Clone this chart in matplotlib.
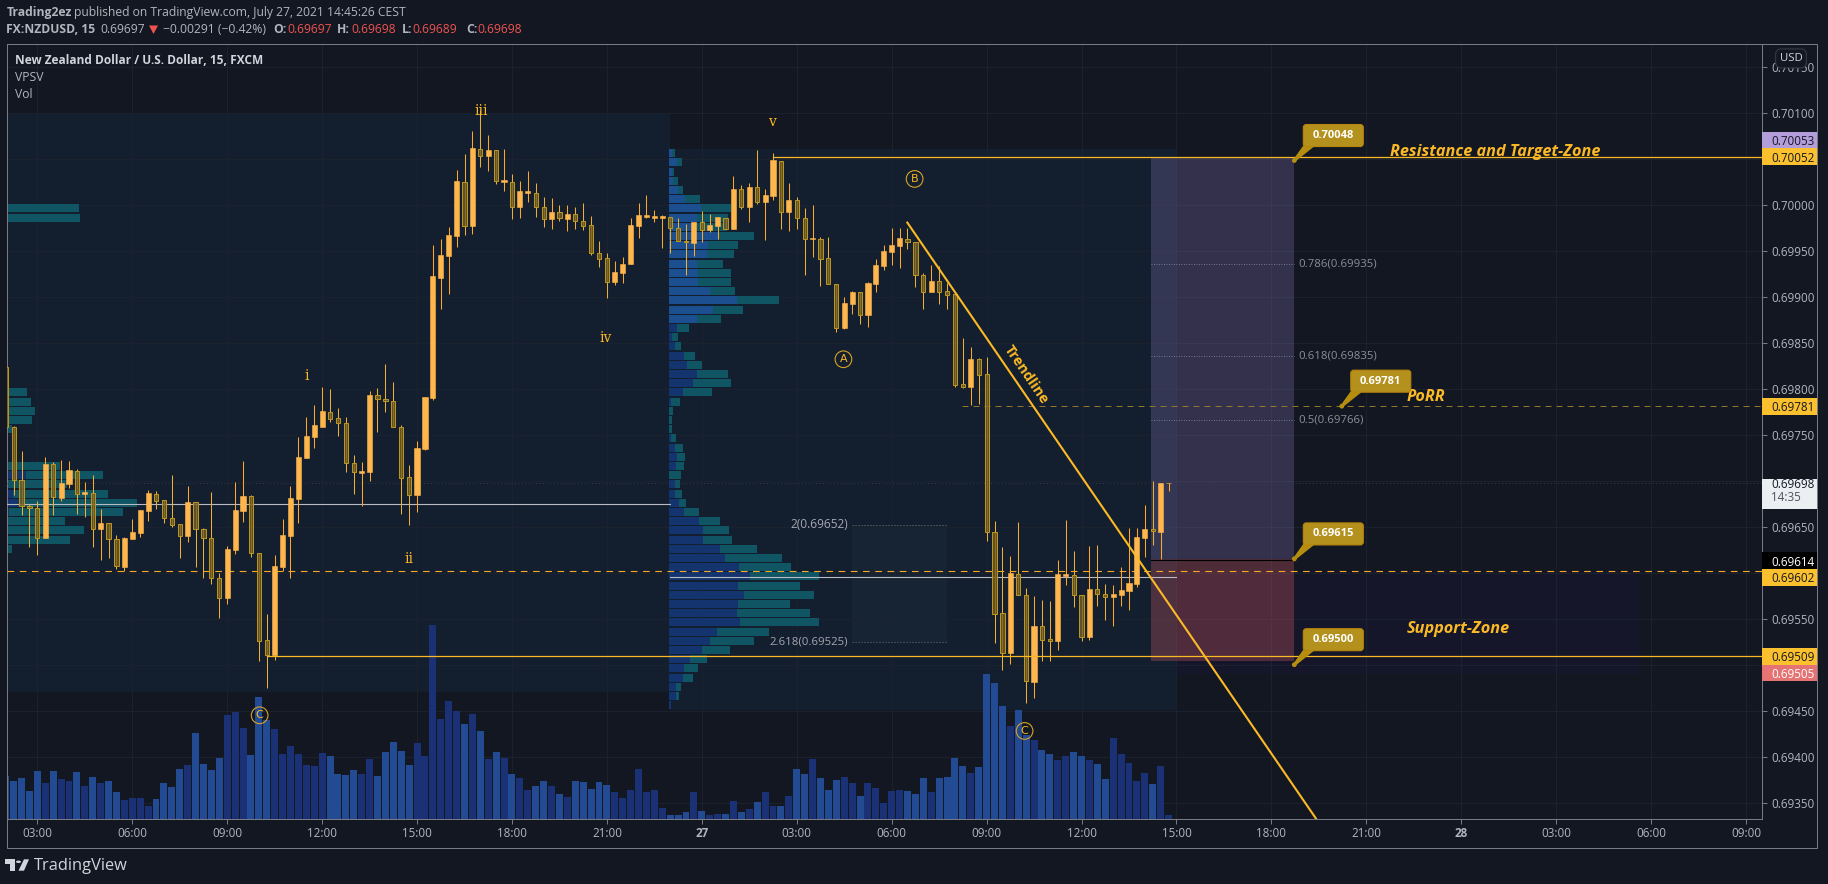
import numpy as np
import matplotlib
matplotlib.use("Agg")
import matplotlib.pyplot as plt
from matplotlib.patches import Rectangle, Polygon, FancyBboxPatch, Circle
from matplotlib.transforms import IdentityTransform, ScaledTranslation

# --- Candles, 15 min, prices in pipettes (1e-5), first bar = 02:00 Jul 26 ---
opens = [69824,69758,69701,69673,69670,69638,69718,69681,69696,69711,
         69686,69687,69647,69654,69637,69606,69637,69643,69667,69686,
         69679,69659,69653,69640,69677,69647,69638,69594,69573,69625,
         69667,69683,69621,69527,69511,69606,69640,69680,69725,69748,
         69758,69775,69768,69763,69719,69708,69710,69793,69789,69787,
         69758,69704,69685,69735,69790,69920,69944,69966,70025,69977,
         70061,70053,70059,70025,70025,69998,70013,70013,69997,69984,
         69992,69984,69990,69982,69978,69947,69942,69916,69926,69935,
         69977,69987,69986,69986,69987,69975,69961,69958,69981,69972,
         69977,69986,69974,70017,69998,70019,70003,70009,70048,69992,
         70005,69986,69963,69963,69942,69914,69866,69892,69905,69880,
         69914,69933,69949,69955,69963,69959,69924,69905,69917,69906,
         69903,69805,69802,69832,69816,69644,69556,69513,69599,69576,
         69481,69542,69528,69526,69596,69597,69576,69530,69582,69577,
         69574,69576,69580,69588,69638,69647,69644,69697]
highs = [69824,69759,69732,69675,69678,69726,69720,69723,69721,69713,
         69699,69706,69669,69654,69641,69639,69658,69668,69690,69689,
         69679,69706,69653,69694,69677,69649,69688,69600,69629,69699,
         69721,69684,69621,69555,69619,69658,69694,69748,69769,69782,
         69802,69800,69779,69769,69728,69720,69797,69801,69827,69807,
         69761,69717,69743,69791,69956,69963,69976,70038,70055,70080,
         70103,70076,70059,70061,70033,70026,70037,70024,70008,70007,
         70000,70000,69998,70002,69988,69960,69947,69939,69943,69986,
         70002,70011,69994,69989,69987,69986,69979,69981,69993,69990,
         69987,69986,70031,70021,70024,70059,70017,70056,70048,70024,
         70008,69996,70000,69965,69965,69914,69900,69906,69905,69916,
         69941,69956,69975,69975,69975,69959,69926,69934,69933,69915,
         69903,69855,69845,69833,69834,69656,69628,69618,69655,69583,
         69575,69570,69569,69614,69657,69624,69576,69629,69630,69588,
         69587,69606,69649,69649,69674,69700,69698,69698]
lows = [69758,69684,69663,69628,69619,69638,69663,69678,69692,69664,
        69661,69628,69614,69616,69604,69602,69637,69639,69656,69669,
        69654,69650,69616,69633,69606,69594,69588,69551,69566,69620,
        69655,69617,69504,69475,69505,69602,69594,69654,69725,69736,
        69758,69764,69749,69709,69686,69673,69700,69753,69775,69758,
        69664,69652,69666,69733,69788,69887,69903,69954,69967,69968,
        70041,70037,70022,70015,69984,69986,70003,69987,69976,69974,
        69982,69971,69974,69973,69945,69932,69899,69913,69915,69935,
        69964,69986,69981,69953,69947,69961,69924,69944,69959,69970,
        69963,69974,69974,69995,69981,70001,69962,70005,69974,69971,
        69974,69924,69943,69912,69914,69862,69865,69881,69870,69867,
        69905,69929,69934,69931,69952,69911,69887,69905,69892,69887,
        69802,69801,69782,69783,69634,69524,69494,69501,69576,69458,
        69464,69504,69504,69516,69587,69563,69526,69527,69564,69549,
        69542,69564,69559,69584,69617,69630,69615,69689]
closes = [69758,69701,69673,69670,69638,69718,69682,69698,69712,69686,
          69688,69647,69654,69637,69607,69638,69644,69668,69687,69678,
          69659,69652,69640,69677,69647,69638,69594,69573,69626,69668,
          69683,69621,69526,69511,69607,69641,69681,69726,69749,69760,
          69776,69767,69763,69719,69709,69711,69793,69789,69787,69758,
          69703,69685,69736,69791,69922,69945,69967,70026,69977,70062,
          70053,70059,70026,70027,69998,70015,70015,69997,69984,69992,
          69985,69990,69982,69977,69947,69941,69916,69927,69936,69978,
          69989,69989,69988,69988,69975,69961,69959,69981,69973,69978,
          69987,69974,70017,69998,70019,70003,70011,70049,69992,70005,
          69986,69963,69964,69941,69914,69866,69893,69905,69880,69915,
          69934,69950,69956,69964,69959,69924,69905,69917,69905,69902,
          69804,69802,69832,69815,69644,69555,69513,69600,69576,69482,
          69542,69527,69526,69599,69599,69576,69530,69582,69577,69574,
          69577,69581,69589,69639,69647,69645,69698,69698]
volumes = [129,114,123,84,144,108,144,120,114,141,
           99,126,108,114,81,57,63,63,39,60,
           108,96,150,162,258,165,147,183,312,321,
           273,192,366,297,270,195,219,195,162,159,
           198,189,135,132,147,135,180,129,201,231,
           204,162,228,189,582,300,354,324,285,315,
           264,180,201,183,135,123,87,99,114,99,
           75,66,114,111,90,111,102,81,63,87,
           150,81,87,33,12,12,21,81,24,12,
           15,15,54,21,30,51,81,39,39,69,
           150,135,180,123,87,117,126,108,69,108,
           93,48,84,87,84,75,123,81,123,126,
           183,159,138,156,435,408,339,279,327,252,
           237,207,195,177,189,201,189,177,165,120,
           243,195,168,114,138,105,159,12]

# --- Volume profiles (session 2 rows run from 70056 down by 10 pipettes) ---
vp_up = [9,24,9,12,27,48,96,84,73,148,117,114,84,87,87,123,204,132,84,24,
         9,18,45,54,84,72,42,6,0,0,0,6,18,24,21,0,18,18,30,45,
         90,102,102,153,168,210,243,207,225,207,204,213,144,123,99,63,45,42,21,21,6]
vp_down = [9,15,6,15,15,45,90,93,101,107,90,81,78,99,99,75,126,90,72,36,
           18,18,33,45,93,114,87,27,12,9,9,15,24,24,24,36,15,21,21,45,
           63,78,87,111,171,156,207,186,210,156,219,237,156,132,84,51,42,30,15,9,0]
vp_levels = np.arange(70056, 69455, -10)
left_levels = [69996,69986,69796,69786,69776,69766,69756,69716,69706,69696,
               69686,69676,69666,69656,69646,69636,69626]
left_up = [0,0,0,0,0,0,0,0,58,0,19,40,7,0,0,0,0]
left_down = [217,220,61,73,85,76,16,160,231,181,285,351,342,175,232,190,16]

price_ticks = [70150,70100,70050,70000,69950,69900,69850,69800,69750,69700,
               69650,69600,69550,69500,69450,69400,69350]
hidden_ticks = [70050, 69700, 69600, 69500]  # covered by the price labels
time_ticks = [12,24,36,48,60,72,84,96,108,120,132,144,156,168,180,192,204,216,228]
time_labels = ["03:00","06:00","09:00","12:00","15:00","18:00","21:00","27",
               "03:00","06:00","09:00","12:00","15:00","18:00","21:00","28",
               "03:00","06:00","09:00"]

wave_t = [46, 59, 68.1, 83.9, 104.9]
wave_p = [69814, 69615, 70102, 69855, 70090]
wave_txt = ["i", "ii", "iii", "iv", "v"]
circ_t = [113.9, 122.9, 40.1, 136.8]
circ_p = [69832, 70028, 69445, 69428]
circ_txt = ["A", "B", "C", "C"]

fib_p = [69935, 69835, 69766]
fib_txt = ["0.786(0.69935)", "0.618(0.69835)", "0.5(0.69766)"]
side_labels = [("0.70053", 70070, "#b39ddb", "#131722"),
               ("0.70052", 70052, "#fbc02d", "#131722"),
               ("0.69781", 69781, "#fbc02d", "#131722"),
               ("0.69614", 69613, "#000000", "#ffffff"),
               ("0.69602", 69595, "#fbc02d", "#131722"),
               ("0.69509", 69509, "#fbc02d", "#131722"),
               ("0.69505", 69491, "#e57373", "#ffffff")]

BG = "#131722"
ORANGE = "#fbb925"
FONT = "Open Sans"
W, H = 1828, 884
BAR_PX = 7.91
plt.rcParams["font.family"] = [FONT, "DejaVu Sans"]

opens, highs, lows, closes = [np.array(v) / 1e5 for v in (opens, highs, lows, closes)]
t = np.arange(8, 8 + len(opens))
up = closes >= opens

fig = plt.figure(figsize=(W / 100, H / 100), dpi=100, facecolor=BG)
rect = [6.5 / W, 1 - 819 / H, 1755 / W, 775.5 / H]
ax = fig.add_axes(rect)
ax_back = fig.add_axes(rect, sharex=ax, sharey=ax)
ax_vol = ax.twinx()
ax_back.set_zorder(1)
ax_vol.set_zorder(2)
ax.set_zorder(3)
ax.patch.set_visible(False)
ax_vol.patch.set_visible(False)
ax_back.set_facecolor(BG)

ax.set_xlim(8.1, 229.96)
ax.set_ylim(0.693323, 0.701752)
ax_vol.set_ylim(0, 2326)
ax_vol.axis("off")

ax.set_xticks(time_ticks)
ax.set_xticklabels(time_labels)
ax.set_yticks(np.array(price_ticks) / 1e5)
ax.set_yticklabels(["" if p in hidden_ticks else f"{p / 1e5:.5f}" for p in price_ticks])
ax.yaxis.tick_right()
ax.tick_params(axis="both", colors="#787b86", labelcolor="#b2b5be", labelsize=8.4,
               length=3.6, width=0.72)
ax.tick_params(axis="y", pad=3.2)
ax.tick_params(axis="x", pad=2.0)
for lab in ax.get_xticklabels():
    if lab.get_text() in ("27", "28"):
        lab.set_fontweight("bold")
for lab in ax.get_yticklabels():
    lab.set_va("center_baseline")
for s in ax.spines.values():
    s.set_color("#787b86")
    s.set_linewidth(0.72)

ax_back.grid(True, color="#1c212e", lw=0.72)
ax_back.tick_params(left=False, right=False, bottom=False, labelleft=False, labelbottom=False)
for s in ax_back.spines.values():
    s.set_visible(False)

# --- Background zones ---
ax_back.fill_between([8.1, 92], 0.69470, 0.70100, color="#131e2e", lw=0)
ax_back.fill_between([92, 156], 0.69451, 0.70060, color="#131e2e", lw=0)
ax_back.fill_between([156, 214.6], 0.69490, 0.69602, color="#15162a", lw=0)
ax_back.fill_between([115, 127], 0.69525, 0.69652, color="#172433", lw=0)
ax_back.plot([115, 127], [0.69652, 0.69652], color="#6d7280", lw=0.72, ls=(0, (1, 2)))
ax_back.plot([115, 127], [0.69525, 0.69525], color="#6d7280", lw=0.72, ls=(0, (1, 2)))

# --- Volume ---
vol_colors = np.where(up, "#1a3176", "#234b94")
ax_vol.bar(t, volumes, width=0.88, color=vol_colors, lw=0)

# --- Volume profiles ---
vp_scale = 1 / (3 * BAR_PX)
BLUE_L, BLUE_D, TEAL = "#1b4f8f", "#14346f", "#0f5563"
levels = vp_levels / 1e5
vp_up = np.array(vp_up) * vp_scale
vp_down = np.array(vp_down) * vp_scale
blues = [BLUE_L if k <= 18 else BLUE_D for k in range(len(levels))]
ax.barh(levels, vp_up, left=91.9, height=8.6e-5, color=blues, lw=0, zorder=2)
ax.barh(levels, vp_down, left=91.9 + vp_up, height=8.6e-5, color=TEAL, lw=0, zorder=2)
l_levels = np.array(left_levels) / 1e5
l_up = np.array(left_up) * vp_scale
l_down = np.array(left_down) * vp_scale
ax.barh(l_levels, l_up, left=8.1, height=8.6e-5, color=BLUE_D, lw=0, zorder=2)
ax.barh(l_levels, l_down, left=8.1 + l_up, height=8.6e-5, color=TEAL, lw=0, zorder=2)

# --- Position tool ---
ax.fill_between([152.8, 170.9], 0.69615, 0.70052, color=(149/255, 130/255, 200/255, 0.25), lw=0, zorder=2.2)
ax.fill_between([152.8, 170.9], 0.69504, 0.69615, color=(230/255, 100/255, 110/255, 0.28), lw=0, zorder=2.2)
ax.plot([152.8, 170.9], [0.69614, 0.69614], color="black", lw=0.8, zorder=2.3)
for p in fib_p:
    ax.plot([152.8, 170.9], [p / 1e5, p / 1e5], color="#8f93a0", lw=0.6, ls=(0, (1, 2)), zorder=2.3)

# --- Horizontal lines ---
ax.plot([8.1, 92], [0.69675, 0.69675], color="#b8bbc4", lw=0.8, zorder=3, snap=True)
ax.plot([92, 156], [0.69595, 0.69595], color="#b8bbc4", lw=0.8, zorder=3, snap=True)
ax.axhline(0.69698, color="#333b4a", lw=0.72, ls=(0, (1, 2.5)), zorder=3)
ax.axhline(0.69602, color="#f9a825", lw=0.8, ls=(0, (6, 5)), zorder=3, snap=True)
ax.plot([128.9, 230], [0.69781, 0.69781], color="#94762a", lw=0.72, ls=(0, (6, 5)), zorder=3, snap=True)
ax.plot([105, 230], [0.70052, 0.70052], color=ORANGE, lw=0.9, zorder=5, snap=True)
ax.plot([41, 230], [0.69509, 0.69509], color=ORANGE, lw=0.9, zorder=5, snap=True)

# --- Candles ---
ax.vlines(t[up], lows[up], highs[up], color="#ffa726", lw=0.75, zorder=4)
ax.vlines(t[~up], lows[~up], highs[~up], color="#eeb033", lw=0.75, zorder=4)
ax.bar(t[up], (closes - opens)[up], bottom=opens[up], width=0.65,
       color="#ffb74d", edgecolor="#ffb74d", lw=0.4, zorder=4.2)
ax.bar(t[~up], (opens - closes)[~up], bottom=closes[~up], width=0.53,
       facecolor=(0.45, 0.37, 0.14, 0.8), edgecolor="#bb951f", lw=0.75, zorder=4.2)

# --- Trendline ---
ax.plot([121.9, 173.7], [0.699815, 0.69332], color=ORANGE, lw=1.5, zorder=5, solid_capstyle="butt")
ax.text(137, 0.69815, "Trendline", color=ORANGE, fontsize=10.4, fontweight="bold", rotation=-55.6,
        rotation_mode="anchor", ha="center", va="center", zorder=6)

# --- Wave labels ---
for x, p, s in zip(wave_t, wave_p, wave_txt):
    ax.text(x, p / 1e5, s, color=ORANGE, fontsize=10, family="DejaVu Serif", ha="center", va="center", zorder=6)
for x, p, s in zip(circ_t, circ_p, circ_txt):
    ax.text(x, p / 1e5, s, color=ORANGE, fontsize=8, family="DejaVu Sans", ha="center", va="center", zorder=6,
            bbox=dict(boxstyle="circle,pad=0.3", fc="none", ec="#d8a326", lw=0.8))

# --- Fib labels ---
for p, s in zip(fib_p, fib_txt):
    ax.text(171.4, p / 1e5, s, color="#8b8f9a", fontsize=8.2, va="center", ha="left", zorder=6)
ax.text(114.5, 0.69652, "2(0.69652)", color="#a5a8b2", fontsize=8.6, va="center", ha="right", zorder=6)
ax.text(114.5, 0.69525, "2.618(0.69525)", color="#a5a8b2", fontsize=8.2, va="center", ha="right", zorder=6)

# --- Zone texts ---
zone_kw = dict(color=ORANGE, fontsize=11.7, fontweight="bold", style="italic", va="center", ha="left", zorder=6)
ax.text(183, 0.700576, "Resistance and Target-Zone", **zone_kw)
ax.text(185.1, 0.69791, "PoRR", **zone_kw)
ax.text(185.1, 0.69539, "Support-Zone", **zone_kw)


def callout(x, p, label):
    tr = IdentityTransform() + ScaledTranslation(x, p, ax.transData)
    col = "#b4901c"
    ax.add_patch(Polygon([(-1, 1), (9, 15), (21, 15), (1, -1)], closed=True, fc="#b58e10", ec="none",
                         transform=tr, zorder=7, clip_on=False))
    ax.add_patch(Circle((0, 0), 2.4, fc="#b58e10", ec="none", transform=tr, zorder=7, clip_on=False))
    ax.add_patch(FancyBboxPatch((9, 14), 60, 22, boxstyle="round,pad=0,rounding_size=3", fc=col, ec="#b8860b",
                                lw=0.8, transform=tr, zorder=7, clip_on=False))
    ax.text(39, 25, label, color="white", fontsize=8, fontweight="bold", ha="center", va="center",
            transform=tr, zorder=8)


callout(170.9, 0.70048, "0.70048")
callout(176.9, 0.69781, "0.69781")
callout(170.9, 0.69615, "0.69615")
callout(170.9, 0.69500, "0.69500")

# --- Price axis labels ---
ytr = ax.get_yaxis_transform()
lab_w = 55.5 / 1755
text_x = 1 + 9.5 / 1755
for s, p, fc, tc in side_labels:
    ax.add_patch(Rectangle((1, (p - 9.1) / 1e5), lab_w, 18.2e-5, fc=fc, ec="none", transform=ytr,
                           clip_on=False, zorder=8))
    ax.text(text_x, p / 1e5, s, color=tc, fontsize=8.4, va="center_baseline", ha="left", transform=ytr, zorder=9)
ax.add_patch(Rectangle((1, 0.69669), lab_w, 32.6e-5, fc="#eceff1", ec="none", transform=ytr, clip_on=False, zorder=8))
ax.text(text_x, 0.69698, "0.69698", color="#131722", fontsize=8.4, va="center_baseline", ha="left", transform=ytr, zorder=9)
ax.text(text_x, 0.69683, "14:35", color="#50535e", fontsize=8.4, va="center_baseline", ha="left", transform=ytr, zorder=9)
ax.text(1 + 29.5 / 1755, 0.70159, "USD", color="#d1d4dc", fontsize=8.2, va="center", ha="center", transform=ytr, zorder=9,
        bbox=dict(boxstyle="round,pad=0.35,rounding_size=0.5", fc=BG, ec="#363a45", lw=0.8))


# --- Page texts and frame ---
def fx(x, y):
    return x / W, 1 - y / H


def ftext(x, y, s, color="#b2b5be", size=8.75, weight="normal"):
    fx_x, fx_y = fx(x, y)
    fig.text(fx_x, fx_y, s, color=color, fontsize=size, fontweight=weight, va="center", ha="left")


fig.add_artist(Rectangle(fx(6.5, 847.5), 1810.5 / W, 804 / H, transform=fig.transFigure, fc="none",
                         ec="#787b86", lw=0.72))
ftext(6.3, 12.3, "Trading2ez", weight="bold")
ftext(74, 12.3, "published on TradingView.com, July 27, 2021 14:45:26 CEST", size=8.7)
ftext(6.3, 29.5, "FX:NZDUSD, 15", weight="bold")
ftext(100, 29.5, "0.69697")
fig.add_artist(Polygon([fx(149, 25.5), fx(158, 25.5), fx(153.5, 34)], closed=True, transform=fig.transFigure,
                       fc="#ef5350", ec="none"))
ftext(163, 29.5, "\u22120.00291 (\u22120.42%)")
RED = "#ef5350"
for x_key, x_val, key, val in [(273, 287, "O:", "0.69697"), (337, 351, "H:", "0.69698"),
                               (402, 412, "L:", "0.69689"), (466.5, 477, "C:", "0.69698")]:
    ftext(x_key, 29.5, key, weight="bold")
    ftext(x_val, 29.5, val, color=RED)
ftext(15.3, 60.3, "New Zealand Dollar / U.S. Dollar, 15, FXCM", color="#d1d4dc", weight="bold", size=8.6)
ftext(15.3, 77.3, "VPSV", color="#b2b5be")
ftext(15.3, 94.3, "Vol", color="#b2b5be")

# logo
LOGO = "#d1d4dc"
for poly in ([(5.4, 859.3), (15, 859.3), (15, 870.7), (10, 870.7), (10, 864), (5.4, 864)],
             [(24, 859.3), (29, 859.3), (24, 870.7), (18.5, 870.7)]):
    fig.add_artist(Polygon([fx(*q) for q in poly], closed=True, transform=fig.transFigure, fc=LOGO, ec="none"))
fig.add_artist(Circle(fx(18.5, 861.8), 2.5 / W, transform=fig.transFigure, fc=LOGO, ec="none"))
ftext(33.5, 865.5, "TradingView", color=LOGO, size=11.8)

fig.savefig("out.png", dpi=100, facecolor=BG)
